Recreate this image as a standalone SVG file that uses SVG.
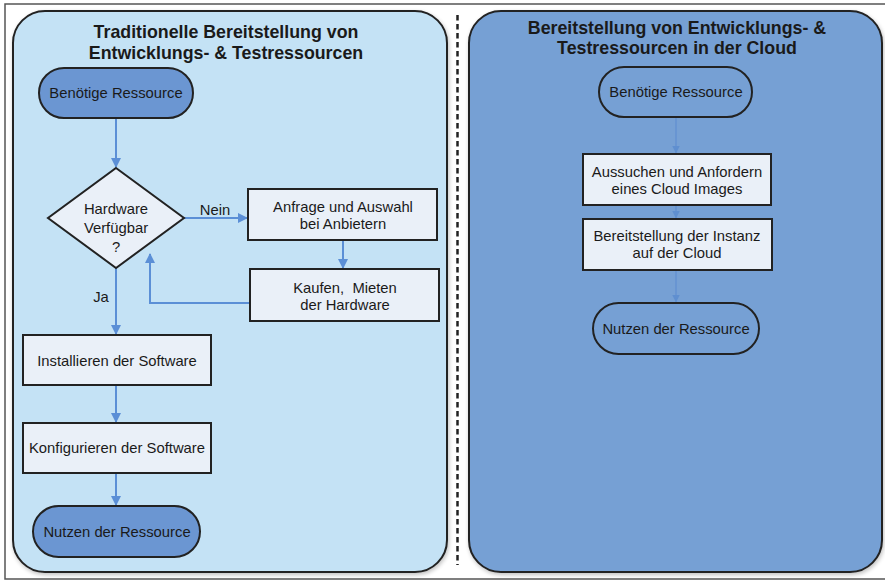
<svg xmlns="http://www.w3.org/2000/svg" width="885" height="581" viewBox="0 0 885 581">
<defs>
<marker id="ah" markerWidth="10" markerHeight="10" refX="9" refY="5" orient="auto" markerUnits="userSpaceOnUse">
<path d="M0,0 L10,5 L0,10 Z" fill="#5b8fd6"/>
</marker>
<marker id="ah2" markerWidth="8" markerHeight="8" refX="7.5" refY="4" orient="auto" markerUnits="userSpaceOnUse">
<path d="M0,0 L8,4 L0,8 Z" fill="#5f8fd0"/>
</marker>
<filter id="sh" x="-5%" y="-5%" width="110%" height="110%">
<feGaussianBlur in="SourceAlpha" stdDeviation="2"/>
<feOffset dx="1" dy="2"/>
<feComponentTransfer><feFuncA type="linear" slope="0.25"/></feComponentTransfer>
<feMerge><feMergeNode/><feMergeNode in="SourceGraphic"/></feMerge>
</filter>
</defs>
<style>
text{font-family:"Liberation Sans",Arial,sans-serif;fill:#1a1a1a;text-anchor:middle}
.title{font-size:17.8px;font-weight:bold}
.lbl{font-size:14.8px}
.box{fill:#eaf0f8;stroke:#222;stroke-width:2}
.term{fill:#6b96d2;stroke:#222;stroke-width:2}
.term2{fill:#76a0d4;stroke:#222;stroke-width:2}
.conn{fill:none;stroke:#5b8fd6;stroke-width:2}
.conn2{fill:none;stroke:#6592d2;stroke-width:1.5}
</style>
<rect x="0" y="0" width="885" height="581" fill="#ffffff"/>
<rect x="5" y="4" width="890" height="575" fill="none" stroke="#555" stroke-width="1.5"/>
<g id="panel-left">
<rect x="13" y="11" width="434" height="561" rx="32" ry="32" fill="#c4e2f5" stroke="#222" stroke-width="2" filter="url(#sh)"/>
<text class="title" x="226" y="38">Traditionelle Bereitstellung von</text>
<text class="title" x="226" y="59">Entwicklungs- &amp; Testressourcen</text>
</g>
<g id="panel-right">
<rect x="469" y="11" width="413" height="561" rx="32" ry="32" fill="#76a0d4" stroke="#222" stroke-width="2" filter="url(#sh)"/>
<text class="title" x="677" y="34">Bereitstellung von Entwicklungs- &amp;</text>
<text class="title" x="677" y="54">Testressourcen in der Cloud</text>
</g>
<line id="divider" x1="457.5" y1="15" x2="457.5" y2="565" stroke="#222" stroke-width="2.5" stroke-dasharray="5.5,3.5"/>
<g id="connectors">
<path class="conn" d="M116,118 V167" marker-end="url(#ah)"/>
<path class="conn" d="M184,218 H247" marker-end="url(#ah)"/>
<path class="conn" d="M343,240 V268" marker-end="url(#ah)"/>
<path class="conn" d="M250,303 H150 V254" marker-end="url(#ah)"/>
<path class="conn" d="M116,268 V334" marker-end="url(#ah)"/>
<path class="conn" d="M116,385 V422" marker-end="url(#ah)"/>
<path class="conn" d="M116,473 V505" marker-end="url(#ah)"/>
<path class="conn2" d="M676,117 V153" marker-end="url(#ah2)"/>
<path class="conn2" d="M676,205 V218" marker-end="url(#ah2)"/>
<path class="conn2" d="M676,270 V302" marker-end="url(#ah2)"/>
<text class="lbl" x="215" y="215">Nein</text>
<text class="lbl" x="101" y="302">Ja</text>
</g>
<g id="l-start">
<rect class="term" x="39" y="68" width="154" height="50" rx="25" ry="25"/>
<text class="lbl" x="116" y="98">Benötige Ressource</text>
</g>
<g id="l-decision">
<polygon class="box" points="116,168 184,218 116,268 48,218"/>
<text class="lbl" x="116" y="214">Hardware</text>
<text class="lbl" x="116" y="233">Verfügbar</text>
<text class="lbl" x="116" y="252">?</text>
</g>
<g id="l-anfrage">
<rect class="box" x="248" y="189" width="189" height="51"/>
<text class="lbl" x="343" y="212">Anfrage und Auswahl</text>
<text class="lbl" x="343" y="229">bei Anbietern</text>
</g>
<g id="l-kaufen">
<rect class="box" x="250" y="269" width="189" height="52"/>
<text class="lbl" x="345" y="293" xml:space="preserve">Kaufen,  Mieten</text>
<text class="lbl" x="345" y="310">der Hardware</text>
</g>
<g id="l-install">
<rect class="box" x="23" y="335" width="188" height="50"/>
<text class="lbl" x="117" y="366">Installieren der Software</text>
</g>
<g id="l-konfig">
<rect class="box" x="23" y="423" width="188" height="50"/>
<text class="lbl" x="117" y="453">Konfigurieren der Software</text>
</g>
<g id="l-end">
<rect class="term" x="33" y="506" width="167" height="51" rx="25.5" ry="25.5"/>
<text class="lbl" x="117" y="537">Nutzen der Ressource</text>
</g>
<g id="r-start">
<rect class="term2" x="599" y="67" width="153" height="50" rx="25" ry="25"/>
<text class="lbl" x="676" y="97">Benötige Ressource</text>
</g>
<g id="r-aussuchen">
<rect class="box" x="583" y="154" width="188" height="51"/>
<text class="lbl" x="677" y="177">Aussuchen und Anfordern</text>
<text class="lbl" x="677" y="194">eines Cloud Images</text>
</g>
<g id="r-bereit">
<rect class="box" x="583" y="219" width="189" height="51"/>
<text class="lbl" x="677" y="241">Bereitstellung der Instanz</text>
<text class="lbl" x="677" y="258">auf der Cloud</text>
</g>
<g id="r-end">
<rect class="term2" x="593" y="303" width="166" height="51" rx="25.5" ry="25.5"/>
<text class="lbl" x="676" y="334">Nutzen der Ressource</text>
</g>
</svg>
